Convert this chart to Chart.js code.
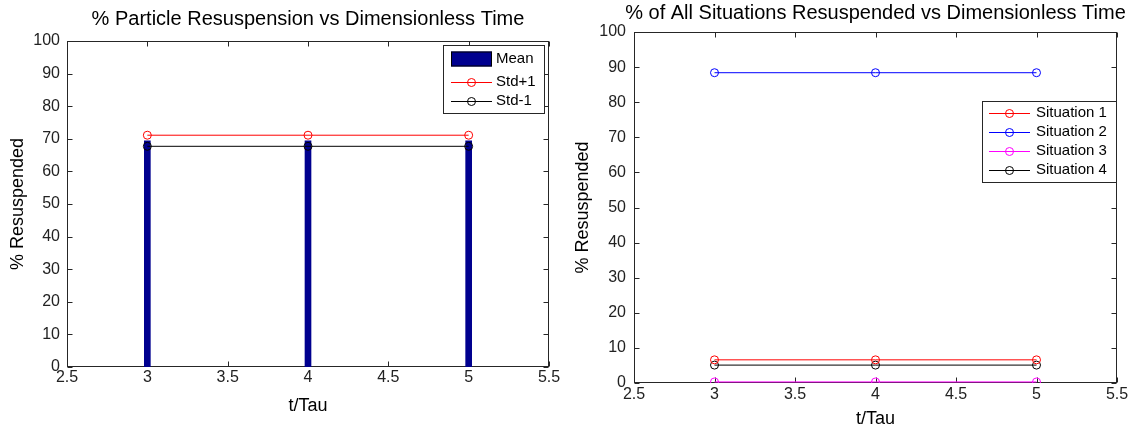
<!DOCTYPE html>
<html><head><meta charset="utf-8">
<script src="https://cdn.jsdelivr.net/npm/chart.js@4.4.1/dist/chart.umd.min.js"></script>
<style>
html,body{margin:0;padding:0;background:#fff;}
#wrap{position:relative;width:1134px;height:428px;overflow:hidden;}
canvas{position:absolute;left:0;top:0;}
</style></head><body>
<div id="wrap">
<canvas id="c1" width="1134" height="428"></canvas>
<canvas id="c2" width="1134" height="428"></canvas>
</div>
<script>
// ---- data ----
const tauValues = [3, 4, 5];
const meanValues = [69.4, 69.4, 69.4];
const stdPlusValues = [71.1, 71.1, 71.1];
const stdMinusValues = [67.7, 67.7, 67.7];
const situation1Values = [6.6, 6.6, 6.6];
const situation2Values = [88.4, 88.4, 88.4];
const situation3Values = [0.3, 0.3, 0.3];
const situation4Values = [5.1, 5.1, 5.1];
const xTickValues = [2.5, 3, 3.5, 4, 4.5, 5, 5.5];
const xTickLabels = ['2.5', '3', '3.5', '4', '4.5', '5', '5.5'];
const yTickValues = [0, 10, 20, 30, 40, 50, 60, 70, 80, 90, 100];
const yTickLabels = ['0', '10', '20', '30', '40', '50', '60', '70', '80', '90', '100'];

const FONT = '"Liberation Sans", Arial, Helvetica, sans-serif';
const pts = (vals) => tauValues.map((t, i) => ({x: t, y: vals[i]}));

const framePlugin = {
  id: 'matlabFrame',
  beforeDatasetsDraw(chart, args, opts) {
    const {ctx, chartArea: ca, scales} = chart;
    const x = scales.x, y = scales.y;
    ctx.save();
    ctx.strokeStyle = '#262626';
    ctx.lineWidth = 1;
    const L = Math.round(ca.left) + 0.5, R = Math.round(ca.right) - 0.5;
    const T = Math.round(ca.top) + 0.5, B = Math.round(ca.bottom) - 0.5;
    ctx.strokeRect(L, T, R - L, B - T);
    ctx.beginPath();
    x.ticks.forEach(t => {
      const px = Math.round(x.getPixelForValue(t.value)) + 0.5;
      ctx.moveTo(px, B); ctx.lineTo(px, B - 5);
      ctx.moveTo(px, T); ctx.lineTo(px, T + 5);
    });
    y.ticks.forEach(t => {
      const py = Math.round(y.getPixelForValue(t.value)) + 0.5;
      ctx.moveTo(L, py); ctx.lineTo(L + 5, py);
      ctx.moveTo(R, py); ctx.lineTo(R - 5, py);
    });
    ctx.stroke();
    ctx.fillStyle = '#000';
    ctx.font = '20px ' + FONT;
    ctx.textAlign = 'center';
    ctx.textBaseline = 'middle';
    ctx.fillText(opts.title, (ca.left + ca.right) / 2, opts.titleY);
    ctx.restore();
  },
  afterDatasetsDraw(chart, args, opts) {
    const lg = opts.legend;
    const {ctx, chartArea: ca} = chart;
    const right = Math.round(ca.right - lg.rightInset);
    const left = right - lg.width;
    const top = Math.round(ca.top + lg.topInset);
    ctx.save();
    ctx.fillStyle = '#fff';
    ctx.fillRect(left, top, lg.width, lg.height);
    ctx.strokeStyle = '#262626';
    ctx.lineWidth = 1;
    ctx.strokeRect(left + 0.5, top + 0.5, lg.width, lg.height);
    chart.data.datasets.forEach((ds, i) => {
      const cy = top + lg.rows[i];
      const x0 = left + lg.sampleX0, x1 = left + lg.sampleX1;
      if (ds.type === 'bar') {
        ctx.fillStyle = ds.backgroundColor;
        ctx.fillRect(x0, cy - 7.5, x1 - x0, 15);
        ctx.strokeStyle = '#000';
        ctx.strokeRect(x0 + 0.5, cy - 7.5 + 0.5, x1 - x0 - 1, 14);
      } else {
        ctx.strokeStyle = ds.borderColor;
        ctx.beginPath();
        ctx.moveTo(x0, Math.round(cy) + 0.5); ctx.lineTo(x1, Math.round(cy) + 0.5);
        ctx.stroke();
        ctx.beginPath();
        ctx.arc((x0 + x1) / 2, Math.round(cy) + 0.5, ds.pointRadius, 0, Math.PI * 2);
        ctx.stroke();
      }
      ctx.fillStyle = '#000';
      ctx.font = lg.fontSize + 'px ' + FONT;
      ctx.textAlign = 'left';
      ctx.textBaseline = 'middle';
      ctx.fillText(ds.label, left + lg.textX, cy);
    });
    ctx.restore();
  }
};

function lineDataset(label, vals, color) {
  return {
    type: 'line', label, data: pts(vals),
    borderColor: color, borderWidth: 1, backgroundColor: color,
    pointRadius: 4, pointHoverRadius: 4, pointBorderColor: color, pointBorderWidth: 1,
    pointBackgroundColor: 'rgba(0,0,0,0)', tension: 0, fill: false
  };
}

function makeScales(xHeight, yWidth, xTitlePad, yTitlePad, xTickPad, yTickPad) {
  return {
    x: {
      type: 'linear', min: 2.5, max: 5.5, offset: false,
      grid: {display: false, drawTicks: false, offset: false}, border: {display: false},
      afterBuildTicks: s => { s.ticks = xTickValues.map(v => ({value: v})); },
      afterFit: s => { s.height = xHeight; s.paddingLeft = 0; s.paddingRight = 0; },
      ticks: {autoSkip: false, maxRotation: 0, minRotation: 0, padding: xTickPad, color: '#222',
        font: {family: FONT, size: 16}, callback: (v, i) => xTickLabels[i]},
      title: {display: true, text: 't/Tau', color: '#000', font: {family: FONT, size: 18},
        padding: {top: 0, bottom: xTitlePad}}
    },
    y: {
      type: 'linear', min: 0, max: 100,
      grid: {display: false, drawTicks: false}, border: {display: false},
      afterBuildTicks: s => { s.ticks = yTickValues.map(v => ({value: v})); },
      afterFit: s => { s.width = yWidth; s.paddingTop = 0; s.paddingBottom = 0; },
      ticks: {autoSkip: false, padding: yTickPad, color: '#222',
        font: {family: FONT, size: 16}, callback: (v, i) => yTickLabels[i]},
      title: {display: true, text: '% Resuspended', color: '#000', font: {family: FONT, size: 18},
        padding: {top: yTitlePad, bottom: 0}}
    }
  };
}

const commonPlugins = {legend: {display: false}, tooltip: {enabled: false}};

new Chart(document.getElementById('c1'), {
  type: 'bar',
  data: {
    datasets: [
      {type: 'bar', label: 'Mean', data: pts(meanValues), backgroundColor: '#00008F',
        borderWidth: 0, barThickness: 6, order: 3},
      Object.assign(lineDataset('Std+1', stdPlusValues, '#FF0000'), {order: 1}),
      Object.assign(lineDataset('Std-1', stdMinusValues, '#000000'), {order: 2})
    ]
  },
  options: {
    responsive: false, animation: false, events: [],
    layout: {padding: {left: 0, right: 585, top: 41, bottom: 0}},
    scales: makeScales(61, 67, 11, 7.7, 1, 7),
    plugins: Object.assign({}, commonPlugins, {
      matlabFrame: {
        title: '% Particle Resuspension vs Dimensionless Time', titleY: 19,
        legend: {rightInset: 5, topInset: 4, width: 101, height: 68, rows: [14, 37, 56],
          sampleX0: 8, sampleX1: 49, textX: 53, fontSize: 15}
      }
    })
  },
  plugins: [framePlugin]
});

new Chart(document.getElementById('c2'), {
  type: 'line',
  data: {
    datasets: [
      lineDataset('Situation 1', situation1Values, '#FF0000'),
      lineDataset('Situation 2', situation2Values, '#0000FF'),
      lineDataset('Situation 3', situation3Values, '#FF00FF'),
      lineDataset('Situation 4', situation4Values, '#000000')
    ]
  },
  options: {
    responsive: false, animation: false, events: [],
    layout: {padding: {left: 565, right: 17, top: 32, bottom: 0}},
    scales: makeScales(45, 69, -2, 7.7, 2, 8),
    plugins: Object.assign({}, commonPlugins, {
      matlabFrame: {
        title: '% of All Situations Resuspended vs Dimensionless Time', titleY: 13.5,
        legend: {rightInset: 1, topInset: 69, width: 134, height: 81, rows: [12, 31, 50, 69],
          sampleX0: 7, sampleX1: 48, textX: 54, fontSize: 15}
      }
    })
  },
  plugins: [framePlugin]
});
</script>
</body></html>
